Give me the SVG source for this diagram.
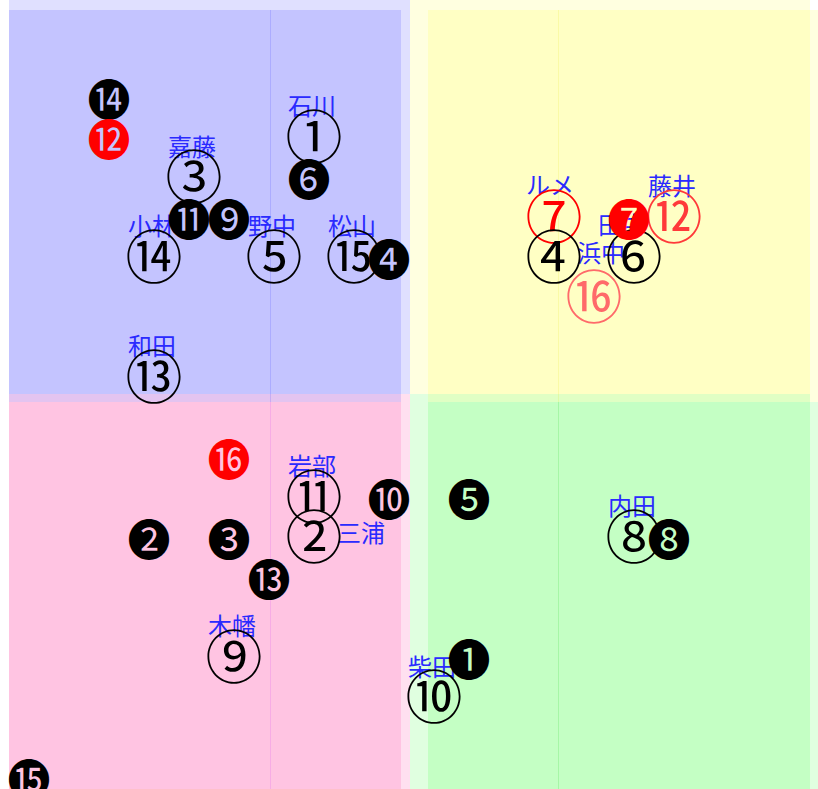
<svg xmlns="http://www.w3.org/2000/svg" width="818" height="789" viewBox="0 0 818 789">
<style>
.bg{stroke:none}
.tl{fill:#0000ff;fill-opacity:0.12}
.tr{fill:#ffff00;fill-opacity:0.12}
.bl{fill:#ff0080;fill-opacity:0.12}
.br{fill:#00ff00;fill-opacity:0.12}
.vl{stroke-width:1;fill:none}
.num{font-family:"Noto Sans CJK JP","DejaVu Sans",sans-serif;font-size:57px;text-anchor:middle}
.fil{font-family:"Noto Sans CJK JP","DejaVu Sans",sans-serif;font-size:43px;text-anchor:middle}
.k{fill:#000}
.r{fill:#ff0000}
.r2{fill:#ff3a3a}
.r3{fill:#ff6a6a}
.lbl{font-family:"Noto Sans CJK JP",sans-serif;font-size:24px;fill:#2a2aff;text-anchor:middle}
.st{text-anchor:start}
</style>
<rect width="818" height="789" fill="#ffffff"/>
<g id="quadrants">
<rect class="bg tl" x="9" y="0" width="401" height="394"/>
<rect class="bg tl" x="9" y="10" width="392" height="392"/>
<rect class="bg tr" x="410" y="0" width="400" height="394"/>
<rect class="bg tr" x="428" y="10" width="390" height="392"/>
<rect class="bg bl" x="9" y="394" width="401" height="395"/>
<rect class="bg bl" x="9" y="402" width="392" height="387"/>
<rect class="bg br" x="410" y="394" width="400" height="395"/>
<rect class="bg br" x="428" y="402" width="390" height="387"/>
<line class="vl" x1="270.5" y1="10" x2="270.5" y2="402" stroke="#0000ff" stroke-opacity="0.12"/>
<line class="vl" x1="270.5" y1="402" x2="270.5" y2="789" stroke="#c000ff" stroke-opacity="0.12"/>
<line class="vl" x1="558.5" y1="10" x2="558.5" y2="402" stroke="#e0e000" stroke-opacity="0.15"/>
<line class="vl" x1="558.5" y1="402" x2="558.5" y2="789" stroke="#00c000" stroke-opacity="0.15"/>
</g>
<g id="connectors"></g>
<g id="n1"><text class="lbl" x="312" y="115">石川</text><text class="num k" x="314" y="158">①</text></g>
<g id="n3"><text class="lbl" x="192" y="156">嘉藤</text><text class="num k" x="194" y="198">③</text></g>
<g id="n14"><text class="lbl" x="152" y="235">小林</text><text class="num k" x="154" y="278">⑭</text></g>
<g id="n5"><text class="lbl" x="272" y="235">野中</text><text class="num k" x="274" y="278">⑤</text></g>
<g id="n15"><text class="lbl" x="352" y="235">松山</text><text class="num k" x="354" y="278">⑮</text></g>
<g id="n13"><text class="lbl" x="152" y="355">和田</text><text class="num k" x="154" y="398">⑬</text></g>
<g id="n7"><text class="lbl" x="550" y="194">ルメ</text><text class="num r" x="554" y="238">⑦</text></g>
<g id="n12"><text class="lbl" x="672" y="195">藤井</text><text class="num r2" x="674" y="238">⑫</text></g>
<g id="n4"><text class="lbl st" x="577" y="262">浜中</text><text class="num k" x="554" y="278">④</text></g>
<g id="n6"><text class="lbl st" x="598" y="234">田中</text><text class="num k" x="634" y="278">⑥</text></g>
<g id="n16"><text class="num r3" x="594" y="318">⑯</text></g>
<g id="n11"><text class="lbl" x="312" y="475">岩部</text><text class="num k" x="314" y="518">⑪</text></g>
<g id="n2"><text class="lbl st" x="337" y="542">三浦</text><text class="num k" x="314" y="558">②</text></g>
<g id="n8"><text class="lbl" x="632" y="515">内田</text><text class="num k" x="634" y="558">⑧</text></g>
<g id="n9"><text class="lbl" x="232" y="635">木幡</text><text class="num k" x="234" y="678">⑨</text></g>
<g id="n10"><text class="lbl" x="432" y="676">柴田</text><text class="num k" x="434" y="718">⑩</text></g>
<g id="m14"><text class="fil k" x="109" y="116">⓮</text></g>
<g id="m12"><text class="fil r" x="109" y="156">⓬</text></g>
<g id="m6"><text class="fil k" x="309" y="196">❻</text></g>
<g id="m11"><text class="fil k" x="189" y="236">⓫</text></g>
<g id="m9"><text class="fil k" x="229" y="236">❾</text></g>
<g id="m4"><text class="fil k" x="389" y="276">❹</text></g>
<g id="m7"><text class="fil r" x="629" y="236">❼</text></g>
<g id="m16"><text class="fil r" x="229" y="476">⓰</text></g>
<g id="m10"><text class="fil k" x="389" y="516">❿</text></g>
<g id="m5"><text class="fil k" x="469" y="516">❺</text></g>
<g id="m2"><text class="fil k" x="149" y="556">❷</text></g>
<g id="m3"><text class="fil k" x="229" y="556">❸</text></g>
<g id="m8"><text class="fil k" x="669" y="556">❽</text></g>
<g id="m13"><text class="fil k" x="269" y="596">⓭</text></g>
<g id="m1"><text class="fil k" x="469" y="676">❶</text></g>
<g id="m15"><text class="fil k" x="29" y="796">⓯</text></g>
</svg>
